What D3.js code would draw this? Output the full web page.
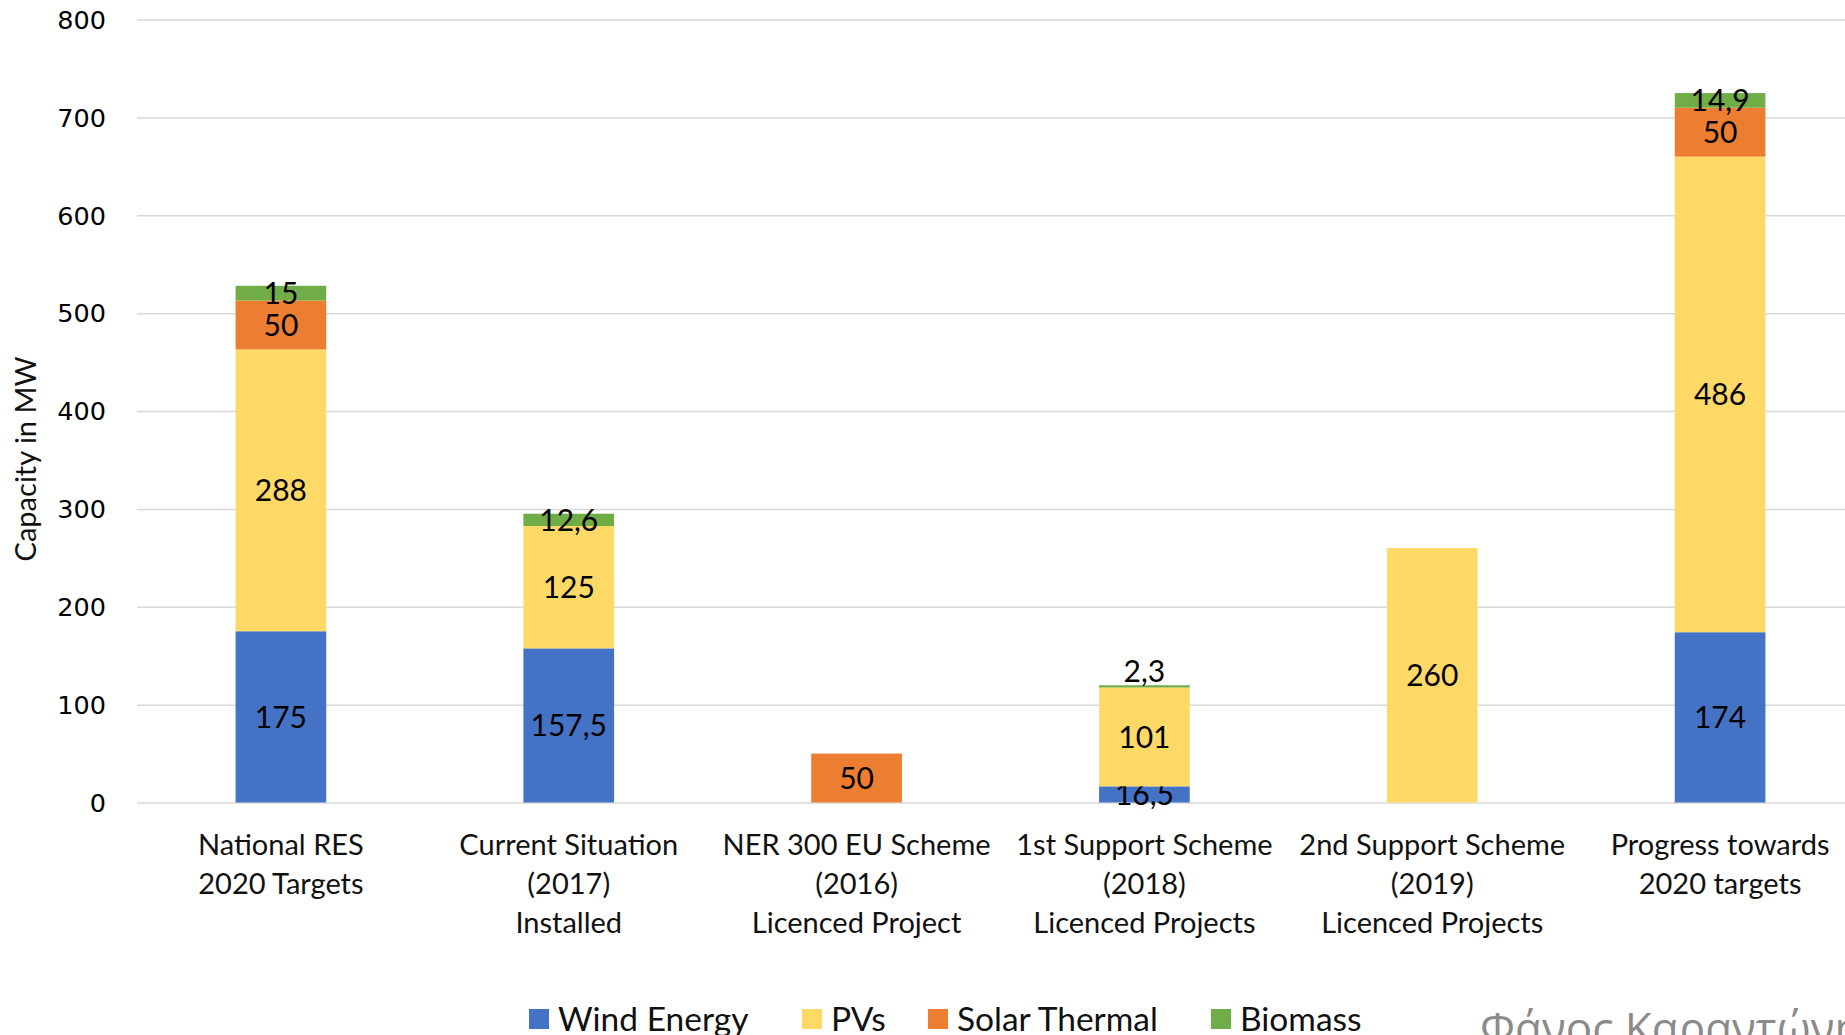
<!DOCTYPE html>
<html>
<head>
<meta charset="utf-8">
<script src="https://cdn.jsdelivr.net/npm/d3@7"></script>
<style>
  body { margin: 0; background: #fff; }
  svg { display: block; }
  .grid line { stroke: #d9d9d9; stroke-width: 1.5; }
  .grid path { display: none; }
  .ytick text { font-family: "DejaVu Sans", sans-serif; font-size: 25.5px; fill: #000; }
  .cat text { font-family: Lato, sans-serif; font-size: 29px; fill: #111; }
  .lbl { font-family: Lato, sans-serif; font-size: 30px; fill: #000; }
</style>
</head>
<body>
<svg></svg>
<script>
'use strict';

const WIDTH = 1845;
const HEIGHT = 1035;

// categories (multi-line labels)
var categories = [
    ["National RES", "2020 Targets"],
    ["Current Situation", "(2017)", "Installed"],
    ["NER 300 EU Scheme", "(2016)", "Licenced Project"],
    ["1st Support Scheme", "(2018)", "Licenced Projects"],
    ["2nd Support Scheme", "(2019)", "Licenced Projects"],
    ["Progress towards", "2020 targets"]
];

var seriesNames = ["Wind Energy", "PVs", "Solar Thermal", "Biomass"];
var seriesColors = ["#4472c4", "#ffd966", "#ed7d31", "#70ad47"];

var windValues = [175, 157.5, 0, 16.5, 0, 174];
var pvValues = [288, 125, 0, 101, 260, 486];
var solarValues = [50, 0, 50, 0, 0, 50];
var biomassValues = [15, 12.6, 0, 2.3, 0, 14.9];

var yTicks = [0, 100, 200, 300, 400, 500, 600, 700, 800];

var svg = d3.select("svg")
    .attr("width", WIDTH)
    .attr("height", HEIGHT);

var x = d3.scaleBand()
    .domain(d3.range(categories.length))
    .range([137, 1864])
    .paddingInner(0.685)
    .paddingOuter(0.3425);

var y = d3.scaleLinear()
    .domain([0, 800])
    .range([802.5, 19.6]);

// gridlines
svg.append("g")
    .attr("class", "grid")
    .attr("transform", "translate(137,0)")
    .call(d3.axisLeft(y).tickValues(yTicks).tickSize(-1727).tickFormat(""));

// y tick labels
svg.append("g")
    .attr("class", "ytick")
    .selectAll("text")
    .data(yTicks)
    .enter()
    .append("text")
    .attr("x", 106)
    .attr("y", function (d) { return y(d); })
    .attr("dy", "0.36em")
    .attr("text-anchor", "end")
    .text(function (d) { return d; });

// y axis title
svg.append("text")
    .attr("transform", "translate(26,459) rotate(-90)")
    .attr("text-anchor", "middle")
    .attr("dy", "0.35em")
    .style("font-family", "Lato, sans-serif")
    .style("font-size", "29px")
    .style("fill", "#111")
    .text("Capacity in MW");

// stacked data
var rows = categories.map(function (c, i) {
    return {
        i: i,
        "Wind Energy": windValues[i],
        "PVs": pvValues[i],
        "Solar Thermal": solarValues[i],
        "Biomass": biomassValues[i]
    };
});

var stack = d3.stack().keys(seriesNames)(rows);

var layers = svg.selectAll(".layer")
    .data(stack)
    .enter()
    .append("g")
    .attr("class", "layer")
    .attr("fill", function (d, k) { return seriesColors[k]; });

layers.selectAll("rect")
    .data(function (d) { return d; })
    .enter()
    .append("rect")
    .attr("x", function (d) { return x(d.data.i); })
    .attr("width", x.bandwidth())
    .attr("y", function (d) { return y(d[1]); })
    .attr("height", function (d) { return y(d[0]) - y(d[1]); });

// data labels
var fmt = function (v) { return String(v).replace(".", ","); };

layers.each(function (layer) {
    var key = layer.key;
    d3.select(this).selectAll("text")
        .data(layer.filter(function (p) { return p.data[key] > 0; }))
        .enter()
        .append("text")
        .attr("class", "lbl")
        .attr("text-anchor", "middle")
        .attr("dy", "0.36em")
        .attr("x", function (d) { return x(d.data.i) + x.bandwidth() / 2; })
        .attr("y", function (d) {
            // tiny segments get their label lifted above the bar
            if (d.data[key] < 5) return y(d[1]) - 14;
            return y((d[0] + d[1]) / 2);
        })
        .text(function (d) { return fmt(d.data[key]); });
});

// category labels
var cat = svg.append("g").attr("class", "cat");
categories.forEach(function (lines, i) {
    var t = cat.append("text")
        .attr("text-anchor", "middle")
        .attr("x", x(i) + x.bandwidth() / 2);
    lines.forEach(function (line, j) {
        t.append("tspan")
            .attr("x", x(i) + x.bandwidth() / 2)
            .attr("y", 855 + j * 39)
            .text(line);
    });
});

// legend
var legendX = [529, 802, 928, 1211];
var legend = svg.append("g");
seriesNames.forEach(function (name, k) {
    legend.append("rect")
        .attr("x", legendX[k])
        .attr("y", 1009)
        .attr("width", 20)
        .attr("height", 20)
        .attr("fill", seriesColors[k]);
    legend.append("text")
        .attr("x", legendX[k] + 29)
        .attr("y", 1019)
        .attr("dy", "0.36em")
        .style("font-family", "Lato, sans-serif")
        .style("font-size", "33.5px")
        .style("fill", "#111")
        .text(name);
});

// watermark
svg.append("text")
    .attr("x", 1480)
    .attr("y", 1044)
    .style("font-family", "'Open Sans', sans-serif")
    .style("font-size", "44px")
    .style("fill", "#8a8a8a")
    .text("Φάνος Καραντώνη");
</script>
</body>
</html>
